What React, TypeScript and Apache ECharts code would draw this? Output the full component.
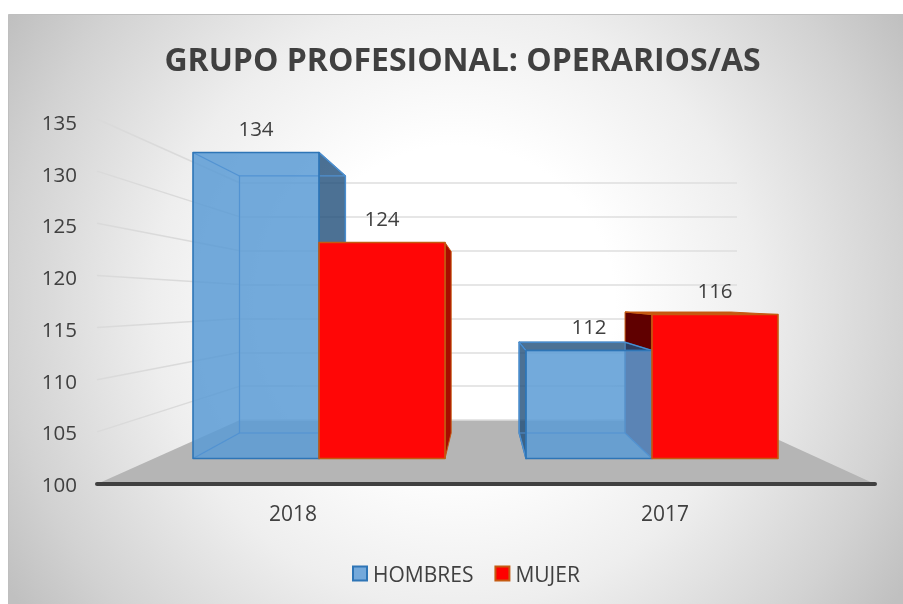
import React, { useEffect, useRef } from "react";
import * as echarts from "echarts";

const categories = ["2018", "2017"];
const hombres = [134, 112];
const mujer = [124, 116];
const yMin = 100;
const yMax = 135;
const yStep = 5;
const yTicks = [100, 105, 110, 115, 120, 125, 130, 135];
const seriesNames = ["HOMBRES", "MUJER"];
const titleText = "GRUPO PROFESIONAL: OPERARIOS/AS";

const FONT = '"Open Sans", sans-serif';
const TEXT = "#404040";
// perspective of the 3D box: back face is the front face shrunk towards a vanishing point
const VX = 483.6;
const VY = 299;
const DEPTH = 0.84;
const BAR_RATIO = 126 / 333;

const back = (p: number[]) => [VX + DEPTH * (p[0] - VX), VY + DEPTH * (p[1] - VY)];

function faces(api: any, sign: number) {
  const x = api.value(0);
  const v = api.value(1);
  const top = api.coord([x, v]);
  const base = api.coord([x, yMin]);
  const w = api.size([1, 0])[0] * BAR_RATIO;
  const x0 = sign < 0 ? top[0] - w : top[0];
  const x1 = x0 + w;
  const tl = [x0, top[1]];
  const tr = [x1, top[1]];
  const br = [x1, base[1]];
  const bl = [x0, base[1]];
  return { v, tl, tr, br, bl, btl: back(tl), btr: back(tr), bbr: back(br), bbl: back(bl), cx: (x0 + x1) / 2, w };
}

const poly = (points: number[][], fill: string, stroke?: string, lineWidth = 1.5) => ({
  type: "polygon",
  shape: { points },
  silent: true,
  style: { fill, stroke: stroke || "none", lineWidth, lineJoin: "round" },
});
const seg = (a: number[], b: number[], stroke: string, lineWidth = 1.2) => ({
  type: "line",
  shape: { x1: a[0], y1: a[1], x2: b[0], y2: b[1] },
  silent: true,
  style: { stroke, lineWidth },
});
const valueLabel = (f: any) => ({
  type: "text",
  silent: true,
  z2: 50,
  style: {
    text: String(f.v),
    x: f.cx,
    y: f.tl[1] - 25,
    align: "center",
    verticalAlign: "middle",
    font: `20.5px ${FONT}`,
    fill: TEXT,
  },
});

const BLUE_EDGE = "#2e75b6";
const BLUE_INNER = "rgba(80,145,210,0.95)";
const BLUE_FRONT = "rgba(91,155,213,0.85)";
const BLUE_DARK = "rgba(31,78,121,0.8)";
const RED_EDGE = "#c55a11";

function renderHombres(_: any, api: any) {
  const f = faces(api, -1);
  const children: any[] = [];
  if (VX > f.tr[0]) children.push(poly([f.tr, f.btr, f.bbr, f.br], BLUE_DARK, BLUE_EDGE));
  if (VX < f.tl[0]) children.push(poly([f.tl, f.btl, f.bbl, f.bl], BLUE_DARK, BLUE_EDGE));
  if (VY < f.tl[1]) children.push(poly([f.tl, f.tr, f.btr, f.btl], BLUE_DARK, BLUE_EDGE));
  children.push(poly([f.tl, f.tr, f.br, f.bl], BLUE_FRONT));
  children.push(poly([f.btl, f.btr, f.bbr, f.bbl], "none", BLUE_INNER, 1.2));
  children.push(seg(f.tl, f.btl, BLUE_INNER));
  children.push(seg(f.tr, f.btr, BLUE_INNER));
  children.push(seg(f.br, f.bbr, BLUE_INNER));
  children.push(seg(f.bl, f.bbl, BLUE_INNER));
  children.push(poly([f.tl, f.tr, f.br, f.bl], "none", BLUE_EDGE, 1.6));
  children.push(valueLabel(f));
  return { type: "group", children };
}

function renderMujerBack(_: any, api: any) {
  const f = faces(api, 1);
  if (VX < f.tl[0]) {
    return { type: "group", children: [poly([f.tl, f.btl, f.bbl, f.bl], "#600000", RED_EDGE, 1)] };
  }
  return { type: "group", children: [] };
}

function renderMujerFront(_: any, api: any) {
  const f = faces(api, 1);
  const children: any[] = [];
  if (VX > f.tr[0]) children.push(poly([f.tr, f.btr, f.bbr, f.br], "#a80c00", RED_EDGE, 1));
  if (VY < f.tl[1]) children.push(poly([f.tl, f.tr, f.btr, f.btl], "#c55a11", RED_EDGE, 1));
  children.push(poly([f.tl, f.tr, f.br, f.bl], "#ff0606", RED_EDGE, 1.6));
  children.push(valueLabel(f));
  return { type: "group", children };
}

// side wall lines: join the value axis to the back wall
function renderWall(params: any, api: any) {
  const v = api.value(1);
  if (v === yMin) return null;
  const y = api.coord([0, v])[1];
  const cs = params.coordSys;
  const bottom = cs.y + cs.height;
  const startY = bottom + (y - bottom) * (365 / 362);
  const endY = 420 + (y - bottom) * (237 / 362);
  return seg([cs.x, startY], [240, endY], "#dadada", 1.5);
}

const hiddenX = (gridIndex: number) => ({ type: "category", gridIndex, data: categories, show: false });

export default function App() {
  const ref = useRef<HTMLDivElement>(null);
  useEffect(() => {
    const chart = echarts.init(ref.current!, undefined, { renderer: "svg" });
    chart.setOption({
      animation: false,
      title: {
        text: titleText,
        left: 457.5,
        top: 37,
        textAlign: "center",
        textStyle: { fontFamily: FONT, fontSize: 32, fontWeight: "bold", color: TEXT },
      },
      legend: {
        left: 347,
        top: 558,
        itemWidth: 14,
        itemHeight: 14,
        itemGap: 21,
        selectedMode: false,
        textStyle: { fontFamily: FONT, fontSize: 21, color: TEXT, padding: [0, 0, 0, 1] },
        data: [
          { name: seriesNames[0], icon: "rect", itemStyle: { color: "#74a9db", borderColor: BLUE_EDGE, borderWidth: 2 } },
          { name: seriesNames[1], icon: "rect", itemStyle: { color: "#ff0000", borderColor: RED_EDGE, borderWidth: 2 } },
        ],
      },
      grid: [
        { left: 97, width: 778, top: 122, height: 362 },
        { left: 107, width: 744, top: 122, height: 362 },
        { left: 240, width: 497, top: 183, height: 237 },
        { left: 152.5, width: 666, top: 143.5, height: 315 },
      ],
      xAxis: [
        {
          type: "category",
          gridIndex: 0,
          data: categories,
          z: 5,
          axisLine: { lineStyle: { color: "#404040", width: 4, cap: "round" } },
          axisTick: { show: false },
          axisLabel: { show: false },
          splitLine: { show: false },
        },
        {
          type: "category",
          gridIndex: 1,
          data: categories,
          axisLine: { show: false },
          axisTick: { show: false },
          axisLabel: { fontFamily: FONT, fontSize: 21, color: TEXT, margin: 18 },
        },
        hiddenX(2),
        hiddenX(3),
      ],
      yAxis: [
        {
          type: "value",
          gridIndex: 0,
          min: yMin,
          max: yMax,
          interval: yStep,
          axisLine: { show: false },
          axisTick: { show: false },
          splitLine: { show: false },
          axisLabel: { fontFamily: FONT, fontSize: 20.5, color: TEXT, margin: 20 },
        },
        { type: "value", gridIndex: 1, min: yMin, max: yMax, interval: yStep, show: false },
        {
          type: "value",
          gridIndex: 2,
          min: yMin,
          max: yMax,
          interval: yStep,
          axisLine: { show: false },
          axisTick: { show: false },
          axisLabel: { show: false },
          splitLine: { lineStyle: { color: "#dedede", width: 1.5 } },
        },
        { type: "value", gridIndex: 3, min: yMin, max: yMax, interval: yStep, show: false },
      ],
      graphic: [
        {
          type: "rect",
          z: -10,
          silent: true,
          shape: { x: 8.5, y: 14.5, width: 900, height: 600 },
          style: {
            fill: new echarts.graphic.RadialGradient(
              456,
              305,
              530,
              [
                { offset: 0, color: "#ffffff" },
                { offset: 0.3, color: "#ffffff" },
                { offset: 0.57, color: "#eeeeee" },
                { offset: 0.85, color: "#d2d2d2" },
                { offset: 1, color: "#c0c0c0" },
              ],
              true
            ),
            stroke: "#bfbfbf",
            lineWidth: 1,
          },
        },
        {
          type: "polygon",
          z: 0,
          silent: true,
          shape: { points: [[97, 484], [240, 420], [735, 420], [875, 484]] },
          style: { fill: "#b5b5b5" },
        },
      ],
      series: [
        {
          type: "custom",
          name: "wall",
          xAxisIndex: 0,
          yAxisIndex: 0,
          z: 1,
          silent: true,
          renderItem: renderWall,
          encode: { x: 0, y: 1 },
          data: yTicks.map((t) => [0, t]),
        },
        {
          type: "custom",
          name: seriesNames[1],
          xAxisIndex: 3,
          yAxisIndex: 3,
          z: 2,
          silent: true,
          renderItem: renderMujerBack,
          encode: { x: 0, y: 1 },
          data: mujer.map((v, i) => [i, v]),
        },
        {
          type: "custom",
          name: seriesNames[0],
          xAxisIndex: 3,
          yAxisIndex: 3,
          z: 3,
          silent: true,
          renderItem: renderHombres,
          encode: { x: 0, y: 1 },
          data: hombres.map((v, i) => [i, v]),
        },
        {
          type: "custom",
          name: seriesNames[1],
          xAxisIndex: 3,
          yAxisIndex: 3,
          z: 4,
          silent: true,
          renderItem: renderMujerFront,
          encode: { x: 0, y: 1 },
          data: mujer.map((v, i) => [i, v]),
        },
      ],
    });
    return () => chart.dispose();
  }, []);
  return <div ref={ref} style={{ position: "fixed", left: 0, top: 0, width: 903, height: 604 }} />;
}
